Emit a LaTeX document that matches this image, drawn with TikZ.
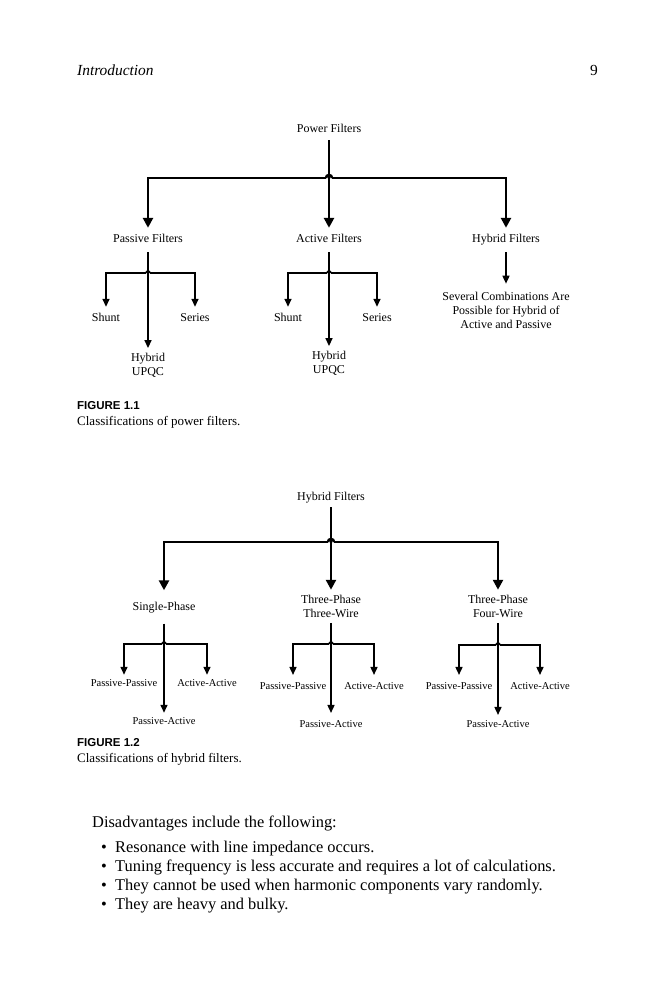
\documentclass[tikz,border=0pt]{standalone}
\usepackage{fontspec}
\setmainfont{Liberation Serif}
\newfontfamily\capsans{Liberation Sans}
\usetikzlibrary{arrows.meta}
\begin{document}
\begin{tikzpicture}[x=1pt,y=-1pt,
  every node/.style={inner sep=0pt},
  thk/.style={line width=2.6pt},
  thkarr/.style={line width=2.6pt,-{Triangle[width=10pt,length=10pt]}},
  thn/.style={line width=1.5pt},
  thnarr/.style={line width=1.5pt,-{Triangle[width=7pt,length=8pt]}},
  lab/.style={font=\fontsize{12}{14}\selectfont, text height=8.5pt, text depth=2.5pt},
  labtwo/.style={font=\fontsize{12}{14.2}\selectfont, align=center},
  slab/.style={font=\fontsize{10.5}{12}\selectfont, text height=7.5pt, text depth=2.2pt},
  figlab/.style={anchor=base west, font=\capsans\bfseries\fontsize{11.5}{13}\selectfont},
  caplab/.style={anchor=base west, font=\fontsize{13}{15}\selectfont},
  body/.style={anchor=base west, font=\fontsize{16.4}{19}\selectfont},
]
\fill[white] (0,0) rectangle (662,1000);
\useasboundingbox (0,0) rectangle (662,1000);

% header
\node[anchor=base west, font=\itshape\fontsize{15.4}{18}\selectfont] (hdr) at (77,76) {Introduction};
\node[anchor=base east, font=\fontsize{15.4}{18}\selectfont] (pgno) at (598,76) {9};

% ---------- Figure 1.1 ----------
\node[lab,inner ysep=4.5pt] (pf) at (329,130) {Power Filters};
\node[lab,inner ysep=6.5pt] (pasf) at (148,240) {Passive Filters};
\node[lab,inner ysep=6.5pt] (actf) at (329,240) {Active Filters};
\node[lab,inner ysep=6.5pt] (hybf) at (506,240) {Hybrid Filters};
\coordinate (j1) at (329,178);
\draw[thkarr] (pf) -- (actf);
\draw[thkarr] ([xshift=-3pt]j1) -| (pasf);
\draw[thkarr] ([xshift=3pt]j1) -| (hybf);
\draw[thk] ([xshift=-3pt]j1) arc[start angle=180,end angle=0,radius=3pt];

% passive subtree
\node[lab,inner ysep=5.5pt] (sh1) at (106,318) {Shunt};
\node[lab,inner ysep=5.5pt] (se1) at (195,318) {Series};
\node[labtwo,inner ysep=4.5pt] (hu1) at (148,365) {Hybrid\\UPQC};
\coordinate (j2) at (148,273);
\draw[thnarr] (pasf) -- (hu1);
\draw[thnarr] ([xshift=-2pt]j2) -| (sh1);
\draw[thnarr] ([xshift=2pt]j2) -| (se1);
\draw[thn] ([xshift=-2pt]j2) arc[start angle=180,end angle=0,radius=2pt];

% active subtree
\node[lab,inner ysep=5.5pt] (sh2) at (288,318) {Shunt};
\node[lab,inner ysep=5.5pt] (se2) at (377,318) {Series};
\node[labtwo,inner ysep=4.5pt] (hu2) at (329,363) {Hybrid\\UPQC};
\coordinate (j3) at (329,273);
\draw[thnarr] (actf) -- (hu2);
\draw[thnarr] ([xshift=-2pt]j3) -| (sh2);
\draw[thnarr] ([xshift=2pt]j3) -| (se2);
\draw[thn] ([xshift=-2pt]j3) arc[start angle=180,end angle=0,radius=2pt];

% hybrid
\node[labtwo,inner ysep=8pt] (sev) at (506,310.3) {Several Combinations Are\\Possible for Hybrid of\\Active and Passive};
\draw[thnarr] (hybf) -- (sev);

\node[figlab] (fig1) at (77,409) {FIGURE 1.1};
\node[caplab] (cap1) at (77,425) {Classifications of power filters.};

% ---------- Figure 1.2 ----------
\node[lab,inner ysep=4.5pt] (hf) at (331,497) {Hybrid Filters};
\node[lab,inner ysep=11pt] (sp) at (164,607) {Single-Phase};
\node[labtwo,inner ysep=5pt] (t3w) at (331,606.3) {Three-Phase\\Three-Wire};
\node[labtwo,inner ysep=5pt] (t4w) at (498,606.3) {Three-Phase\\Four-Wire};
\coordinate (j4) at (331,542);
\draw[thkarr] (hf) -- (t3w);
\draw[thkarr] ([xshift=-3pt]j4) -| (sp);
\draw[thkarr] ([xshift=3pt]j4) -| (t4w);
\draw[thk] ([xshift=-3pt]j4) arc[start angle=180,end angle=0,radius=3pt];

% single-phase subtree
\node[slab,inner ysep=4.2pt] (pp1) at (124,684) {Passive-Passive};
\node[slab,inner ysep=4.2pt] (aa1) at (207,684) {Active-Active};
\node[slab,inner ysep=4.2pt] (pa1) at (164,722) {Passive-Active};
\coordinate (j5) at (164,644);
\draw[thnarr] (sp) -- (pa1);
\draw[thnarr] ([xshift=-2pt]j5) -| (pp1);
\draw[thnarr] ([xshift=2pt]j5) -| (aa1);
\draw[thn] ([xshift=-2pt]j5) arc[start angle=180,end angle=0,radius=2pt];

% three-phase three-wire subtree
\node[slab,inner ysep=7pt] (pp2) at (293,687) {Passive-Passive};
\node[slab,inner ysep=7pt] (aa2) at (374,687) {Active-Active};
\node[slab,inner ysep=7pt] (pa2) at (331,725) {Passive-Active};
\coordinate (j6) at (331,644);
\draw[thnarr] (t3w) -- (pa2);
\draw[thnarr] ([xshift=-2pt]j6) -| (pp2);
\draw[thnarr] ([xshift=2pt]j6) -| (aa2);
\draw[thn] ([xshift=-2pt]j6) arc[start angle=180,end angle=0,radius=2pt];

% three-phase four-wire subtree
\node[slab,inner ysep=7pt] (pp3) at (459,687) {Passive-Passive};
\node[slab,inner ysep=7pt] (aa3) at (540,687) {Active-Active};
\node[slab,inner ysep=5pt] (pa3) at (498,725) {Passive-Active};
\coordinate (j7) at (498,645);
\draw[thnarr] (t4w) -- (pa3);
\draw[thnarr] ([xshift=-2pt]j7) -| (pp3);
\draw[thnarr] ([xshift=2pt]j7) -| (aa3);
\draw[thn] ([xshift=-2pt]j7) arc[start angle=180,end angle=0,radius=2pt];

\node[figlab] (fig2) at (77,746) {FIGURE 1.2};
\node[caplab] (cap2) at (77,762) {Classifications of hybrid filters.};

% ---------- body text ----------
\node[body] (dis) at (92,827) {Disadvantages include the following:};
\node[body] (b1) at (101,852) {\textbullet};
\node[body] (t1) at (115,852) {Resonance with line impedance occurs.};
\node[body] (b2) at (101,871) {\textbullet};
\node[body] (t2) at (115,871) {Tuning frequency is less accurate and requires a lot of calculations.};
\node[body] (b3) at (101,890) {\textbullet};
\node[body] (t3) at (115,890) {They cannot be used when harmonic components vary randomly.};
\node[body] (b4) at (101,909) {\textbullet};
\node[body] (t4) at (115,909) {They are heavy and bulky.};
\end{tikzpicture}
\end{document}
